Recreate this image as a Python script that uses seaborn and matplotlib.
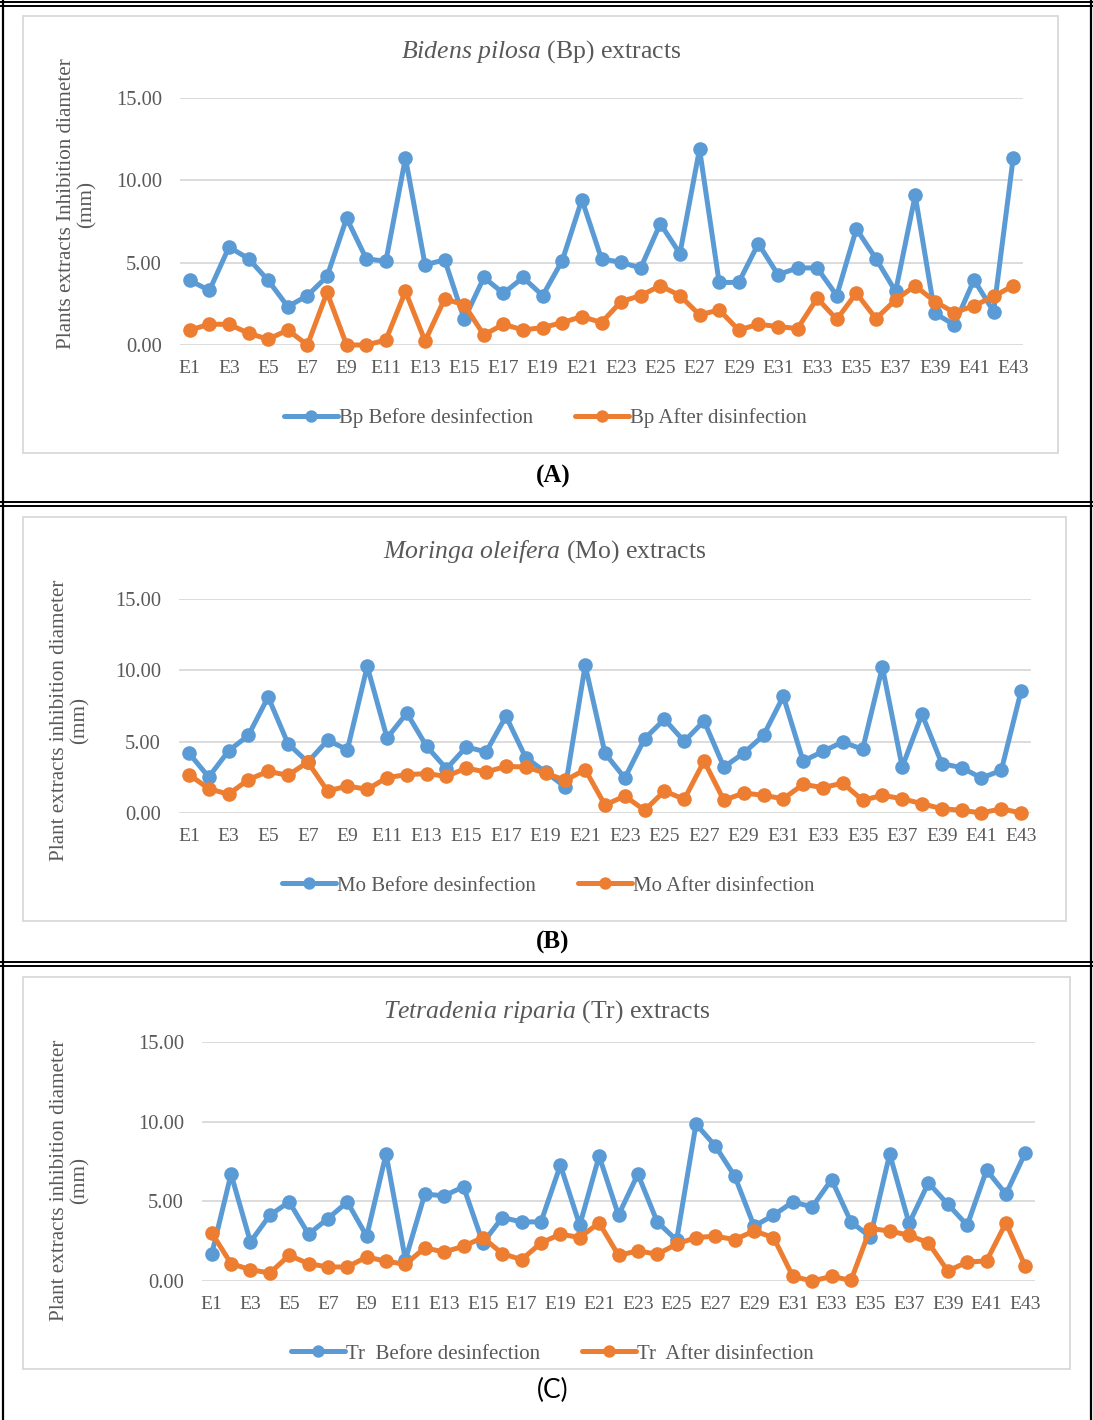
import numpy as np
import pandas as pd
import seaborn as sns
import matplotlib.pyplot as plt
from matplotlib.patches import Rectangle
from matplotlib.lines import Line2D

# ---- data ----
extracts = [f'E{i}' for i in range(1, 44)]

bp_before = [3.92, 3.31, 5.95, 5.24, 3.92, 2.33, 3.00, 4.16, 7.70, 5.24,
             5.08, 11.36, 4.87, 5.17, 1.56, 4.10, 3.14, 4.10, 3.00, 5.13,
             8.83, 5.23, 5.02, 4.68, 7.37, 5.55, 11.90, 3.80, 3.80, 6.16,
             4.27, 4.68, 4.68, 3.00, 7.05, 5.24, 3.25, 9.08, 1.93, 1.22,
             3.96, 2.03, 11.36]
bp_after = [0.91, 1.26, 1.26, 0.71, 0.35, 0.91, 0.00, 3.19, 0.00, 0.00,
            0.30, 3.25, 0.24, 2.80, 2.44, 0.61, 1.26, 0.91, 1.06, 1.36,
            1.73, 1.36, 2.64, 3.00, 3.60, 3.00, 1.83, 2.13, 0.91, 1.26,
            1.12, 1.00, 2.84, 1.56, 3.15, 1.60, 2.74, 3.60, 2.64, 1.97,
            2.38, 2.95, 3.60]

mo_before = [4.20, 2.52, 4.35, 5.44, 8.13, 4.86, 3.57, 5.09, 4.44, 10.28,
             5.26, 7.00, 4.67, 3.10, 4.63, 4.28, 6.78, 3.88, 2.87, 1.82,
             10.35, 4.18, 2.45, 5.21, 6.57, 5.02, 6.45, 3.22, 4.20, 5.44,
             8.18, 3.64, 4.32, 4.98, 4.46, 10.23, 3.22, 6.92, 3.46, 3.18,
             2.45, 2.99, 8.55]
mo_after = [2.69, 1.71, 1.31, 2.34, 2.92, 2.64, 3.57, 1.54, 1.89, 1.66,
            2.48, 2.69, 2.76, 2.57, 3.15, 2.87, 3.27, 3.22, 2.80, 2.29,
            3.04, 0.56, 1.19, 0.19, 1.54, 0.96, 3.64, 0.89, 1.40, 1.24,
            1.00, 2.01, 1.78, 2.10, 0.89, 1.24, 1.00, 0.65, 0.30, 0.19,
            0.00, 0.30, 0.00]

tr_before = [1.68, 6.71, 2.45, 4.13, 4.96, 2.94, 3.92, 4.96, 2.81, 7.97,
             1.34, 5.45, 5.35, 5.91, 2.39, 3.98, 3.71, 3.71, 7.27, 3.50,
             7.84, 4.13, 6.71, 3.71, 2.56, 9.85, 8.47, 6.58, 3.44, 4.13,
             4.96, 4.65, 6.37, 3.71, 2.77, 7.97, 3.61, 6.16, 4.82, 3.50,
             6.96, 5.45, 8.05]
tr_after = [3.02, 1.09, 0.71, 0.50, 1.61, 1.09, 0.88, 0.88, 1.51, 1.24,
            1.05, 2.08, 1.82, 2.18, 2.73, 1.72, 1.34, 2.39, 2.94, 2.73,
            3.65, 1.61, 1.89, 1.68, 2.31, 2.73, 2.81, 2.60, 3.14, 2.73,
            0.29, 0.00, 0.29, 0.04, 3.29, 3.14, 2.87, 2.39, 0.63, 1.19,
            1.26, 3.65, 0.92]

y_ticks = [0, 5, 10, 15]

BLUE = '#5B9BD5'
ORANGE = '#ED7D31'
GREY_TXT = '#595959'
GRID = '#D9D9D9'

sns.set_theme(style='white')
plt.rcParams['font.family'] = ['Liberation Serif', 'DejaVu Serif']
plt.rcParams['mathtext.fontset'] = 'custom'
plt.rcParams['mathtext.rm'] = 'Liberation Serif'
plt.rcParams['mathtext.it'] = 'Liberation Serif:italic'

W, H = 1093, 1420
fig = plt.figure(figsize=(W / 100, H / 100), dpi=100)


def fx(x):
    return x / W


def fy(y):
    return 1 - y / H


panels = [
    dict(before=bp_before, after=bp_after,
         names=('Bp Before desinfection', 'Bp After disinfection'),
         title=r'$\mathit{Bidens\ pilosa}$ (Bp) extracts',
         ylabel='Plants extracts Inhibition diameter\n(mm)',
         plot=(180, 98, 1023, 345), frame=(23, 16, 1058, 453),
         title_xy=(541, 52), ylab_xy=(77, 204), leg_xy=(545, 418),
         tag='(A)', tag_xy=(553, 476), tag_font='Liberation Serif', tag_bold=True),
    dict(before=mo_before, after=mo_after,
         names=('Mo Before desinfection', 'Mo After disinfection'),
         title=r'$\mathit{Moringa\ oleifera}$ (Mo) extracts',
         ylabel='Plant extracts inhibition diameter\n(mm)',
         plot=(179, 599, 1031, 813), frame=(23, 517, 1066, 921),
         title_xy=(545, 552), ylab_xy=(70, 720), leg_xy=(548, 886),
         tag='(B)', tag_xy=(553, 942), tag_font='Liberation Serif', tag_bold=True),
    dict(before=tr_before, after=tr_after,
         names=('Tr  Before desinfection', 'Tr  After disinfection'),
         title=r'$\mathit{Tetradenia\ riparia}$ (Tr) extracts',
         ylabel='Plant extracts inhibition diameter\n(mm)',
         plot=(202, 1042, 1035, 1281), frame=(23, 977, 1070, 1369),
         title_xy=(547, 1012), ylab_xy=(70, 1180), leg_xy=(552, 1354),
         tag='(C)', tag_xy=(553, 1390), tag_font='Lato', tag_bold=False),
]

for p in panels:
    # grey chart frame
    x0, y0, x1, y1 = p['frame']
    fig.patches.append(Rectangle((fx(x0), fy(y1)), fx(x1) - fx(x0), fy(y0) - fy(y1),
                                 transform=fig.transFigure, fill=False,
                                 edgecolor=GRID, linewidth=1.3, zorder=0))

    l, t, r, b = p['plot']
    ax = fig.add_axes([fx(l), fy(b), fx(r) - fx(l), fy(t) - fy(b)])

    df = pd.DataFrame({'idx': np.arange(len(extracts)),
                       'before': p['before'], 'after': p['after']})
    sns.lineplot(data=df, x='idx', y='before', ax=ax, color=BLUE, marker='o',
                 markersize=10.5, markeredgewidth=0, linewidth=3.6,
                 label=p['names'][0], clip_on=False, zorder=3)
    sns.lineplot(data=df, x='idx', y='after', ax=ax, color=ORANGE, marker='o',
                 markersize=10.5, markeredgewidth=0, linewidth=3.6,
                 label=p['names'][1], clip_on=False, zorder=4)

    ax.set_xlim(-0.5, len(extracts) - 0.5)
    ax.set_ylim(0, 15)
    ax.set_yticks(y_ticks)
    ax.set_yticklabels([f'{v:.2f}' for v in y_ticks])
    ax.set_xticks(np.arange(0, len(extracts), 2))
    ax.set_xticklabels(extracts[::2])
    ax.tick_params(axis='both', length=0, labelcolor=GREY_TXT)
    ax.tick_params(axis='x', pad=11, labelsize=14)
    ax.tick_params(axis='y', pad=13, labelsize=14.8)
    ax.set_xlabel('')
    ax.set_ylabel('')
    for s in ax.spines.values():
        s.set_visible(False)
    ax.yaxis.grid(True, color=GRID, linewidth=1.3)
    ax.set_axisbelow(True)
    ax.patch.set_alpha(0)

    handles, labels = ax.get_legend_handles_labels()
    ax.legend_.remove()
    fig.legend(handles, labels, loc='center', ncol=2,
               bbox_to_anchor=(fx(p['leg_xy'][0]), fy(p['leg_xy'][1])),
               frameon=False, fontsize=15, handlelength=2.6,
               columnspacing=2.0, handletextpad=0.05, markerscale=0.85,
               labelcolor=GREY_TXT)

    fig.text(fx(p['title_xy'][0]), fy(p['title_xy'][1]), p['title'],
             ha='center', va='center', fontsize=18.5, color=GREY_TXT)
    fig.text(fx(p['ylab_xy'][0]), fy(p['ylab_xy'][1]), p['ylabel'],
             ha='center', va='center', rotation=90, fontsize=15.2,
             color=GREY_TXT, multialignment='center', linespacing=1.1)
    fig.text(fx(p['tag_xy'][0]), fy(p['tag_xy'][1]), p['tag'],
             ha='center', va='center', fontsize=18 if p['tag_bold'] else 19,
             color='black', family=[p['tag_font'], 'DejaVu Sans'],
             fontweight='bold' if p['tag_bold'] else 'normal')

# black table borders (double lines between cells)
for yy in (2, 5.5, 502, 505.5, 962, 965.5):
    fig.lines.append(Line2D([0, 1], [fy(yy), fy(yy)], transform=fig.transFigure,
                            color='black', linewidth=1.4))
for xx in (3, 1091):
    fig.lines.append(Line2D([fx(xx), fx(xx)], [0, 1], transform=fig.transFigure,
                            color='black', linewidth=1.6))

fig.savefig('out.png', dpi=100)
